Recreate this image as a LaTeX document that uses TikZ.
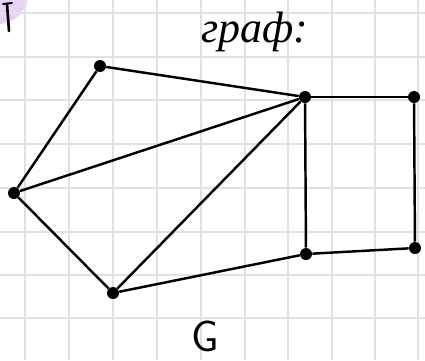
\documentclass[tikz,border=0pt]{standalone}
\usepackage{fontspec}
\setmainfont{Liberation Serif}
\usepackage{xcolor}
\usetikzlibrary{positioning}
\definecolor{gridgray}{RGB}{225, 225, 225}
\definecolor{markpurple}{RGB}{232, 210, 248}

\begin{document}
\begin{tikzpicture}[
        x=0.02cm, y=-0.02cm,
        vertex/.style={circle, fill=black, inner sep=0pt, minimum size=0.24cm},
        edge/.style={line width=1.4pt, color=black},
        label/.style={font=\fontsize{25}{30}\selectfont\itshape, inner sep=0pt}
    ]
        % Paper
        \useasboundingbox (0,0) rectangle (425,360);
        \fill[white] (0,0) rectangle (425,360);
        \begin{scope}
            \clip (0,0) rectangle (425,360);
            \fill[markpurple] (-2,-6) circle [radius=0.6cm];
        \end{scope}
        \foreach \gx in {25,69,113,157,201,245,288,332,375,418} {
            \draw[gridgray, line width=0.7pt] (\gx,0) -- (\gx,360);
        }
        \foreach \gy in {13,57,100,144,188,232,275,318} {
            \draw[gridgray, line width=0.7pt] (0,\gy) -- (425,\gy);
        }

        % Corner mark
        \draw[line width=1.5pt, line cap=round] (7,4) -- (9,31);
        \draw[line width=1.1pt, line cap=round] (3,4) -- (12,3);

        % Title and name
        \node[label] (title) at (255,32) {граф:};
        \node[label, font=\fontsize{25}{30}\selectfont\sffamily] (name) at (205,336) {G};

        % Vertices
        \node[vertex] (top) at (100,66) {};
        \node[vertex] (left) at (14,193) {};
        \node[vertex] (bottom) at (113,293) {};
        \node[vertex] (hub) at (305,97) {};
        \node[vertex] (ne) at (414,97) {};
        \node[vertex] (mid) at (306,254) {};
        \node[vertex] (se) at (415,248) {};

        % Edges
        \draw[edge] (top) -- (hub);
        \draw[edge] (top) -- (left);
        \draw[edge] (left) -- (hub);
        \draw[edge] (left) -- (bottom);
        \draw[edge] (bottom) -- (hub);
        \draw[edge] (bottom) -- (mid);
        \draw[edge] (hub) -- (ne);
        \draw[edge] (hub) -- (mid);
        \draw[edge] (ne) -- (se);
        \draw[edge] (mid) -- (se);
    \end{tikzpicture}
\end{document}
